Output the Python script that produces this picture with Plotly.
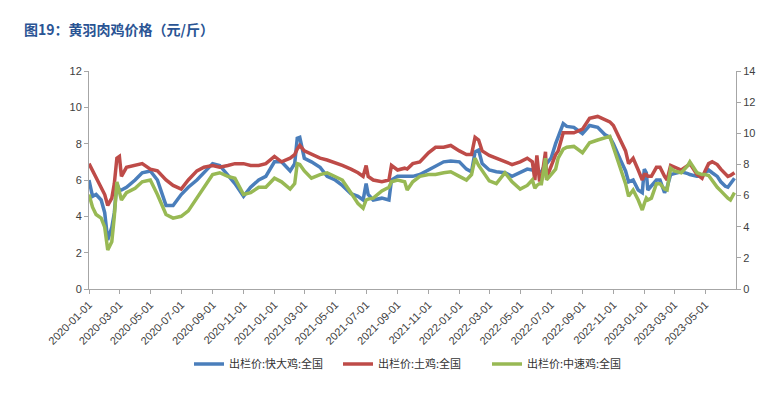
import plotly.graph_objects as go

dates = [
    "2020-01-01", "2020-01-08", "2020-01-15", "2020-01-25", "2020-02-01", "2020-02-07", "2020-02-15",
    "2020-02-20", "2020-02-25", "2020-03-01", "2020-03-05", "2020-03-15", "2020-04-01", "2020-04-15",
    "2020-05-01", "2020-05-15", "2020-06-01", "2020-06-15", "2020-07-01", "2020-07-15", "2020-08-01",
    "2020-08-15", "2020-09-01", "2020-09-15", "2020-10-01", "2020-10-15", "2020-11-01", "2020-11-15",
    "2020-12-01", "2020-12-15", "2021-01-01", "2021-01-15", "2021-02-01", "2021-02-10", "2021-02-15",
    "2021-02-20", "2021-03-01", "2021-03-15", "2021-04-01", "2021-04-15", "2021-05-01", "2021-05-15",
    "2021-06-01", "2021-06-15", "2021-06-25", "2021-07-01", "2021-07-05", "2021-07-15", "2021-08-01",
    "2021-08-15", "2021-08-20", "2021-09-01", "2021-09-15", "2021-09-20", "2021-10-01", "2021-10-15",
    "2021-11-01", "2021-11-15", "2021-12-01", "2021-12-15", "2022-01-01", "2022-01-15", "2022-01-25",
    "2022-02-01", "2022-02-08", "2022-02-15", "2022-03-01", "2022-03-15", "2022-04-01", "2022-04-15",
    "2022-05-01", "2022-05-15", "2022-05-25", "2022-05-30", "2022-06-03", "2022-06-08", "2022-06-12",
    "2022-06-20", "2022-06-22", "2022-07-01", "2022-07-10", "2022-07-15", "2022-07-25", "2022-08-01",
    "2022-08-15", "2022-09-01", "2022-09-15", "2022-10-01", "2022-10-15", "2022-10-25", "2022-11-01",
    "2022-11-15", "2022-11-25", "2022-12-01", "2022-12-10", "2022-12-20", "2022-12-28", "2023-01-01",
    "2023-01-05", "2023-01-08", "2023-01-15", "2023-01-25", "2023-02-01", "2023-02-10", "2023-02-15",
    "2023-02-22", "2023-03-01", "2023-03-15", "2023-03-28", "2023-04-01", "2023-04-15", "2023-04-25",
    "2023-05-01", "2023-05-08", "2023-05-15", "2023-05-25", "2023-06-01", "2023-06-10", "2023-06-15",
    "2023-06-20", "2023-06-28",
]

kuaida = [  # 出栏价:快大鸡:全国
    6.0, 5.1, 5.2, 4.9, 4.2, 2.7, 3.4, 4.2, 5.8, 5.45, 5.45, 5.6, 6.0, 6.4,
    6.5, 6.0, 4.6, 4.6, 5.2, 5.6, 6.0, 6.4, 6.9, 6.8, 6.3, 5.8, 5.1, 5.6,
    6.0, 6.2, 7.0, 7.0, 6.5, 6.9, 8.3, 8.35, 7.2, 7.0, 6.7, 6.2, 6.0, 5.7,
    5.25, 5.1, 4.9, 5.8, 5.2, 4.9, 5.0, 4.9, 6.0, 6.2, 6.2, 6.2, 6.2, 6.3,
    6.55, 6.75, 7.0, 7.05, 7.0, 6.6, 6.45, 7.55, 7.65, 6.9, 6.55, 6.45, 6.4, 6.2,
    6.4, 6.6, 6.55, 6.5, 6.5, 6.45, 6.45, 6.9, 6.9, 7.2, 8.0, 8.4, 9.1, 8.95,
    8.9, 8.55, 9.0, 8.9, 8.5, 8.35, 8.0, 7.1, 6.5, 5.9, 6.0, 5.45, 5.3, 6.6,
    6.4, 5.45, 5.7, 6.0, 6.0, 5.3, 5.6, 6.3, 6.35, 6.45, 6.35, 6.3, 6.2, 6.2,
    6.4, 6.55, 6.4, 6.2, 5.9, 5.65, 5.6, 5.8, 6.1,
]

tuji = [  # 出栏价:土鸡:全国
    6.9, 6.5, 6.2, 5.6, 5.2, 4.6, 5.0, 5.8, 7.2, 7.3, 6.2, 6.7, 6.8, 6.9,
    6.6, 6.5, 6.0, 5.7, 5.5, 6.0, 6.5, 6.7, 6.8, 6.7, 6.8, 6.9, 6.9, 6.8,
    6.8, 6.9, 7.3, 7.0, 7.2, 7.4, 7.7, 7.9, 7.6, 7.4, 7.2, 7.1, 6.95, 6.8,
    6.6, 6.4, 6.2, 6.8, 6.2, 6.0, 5.9, 6.0, 6.8, 6.55, 6.65, 6.6, 6.9, 7.0,
    7.5, 7.8, 7.8, 7.9, 7.6, 7.4, 7.4, 8.35, 8.2, 7.6, 7.35, 7.2, 7.0, 6.85,
    7.0, 7.2, 7.0, 6.0, 7.35, 6.0, 6.0, 7.55, 6.1, 6.8, 7.4, 7.6, 8.6, 8.6,
    8.6, 8.8, 9.4, 9.5, 9.35, 9.2, 9.0, 8.2, 7.6, 6.9, 7.2, 6.55, 6.0, 6.3,
    6.3, 6.2, 6.2, 6.7, 6.7, 6.2, 6.0, 6.8, 6.7, 6.55, 6.8, 6.9, 6.3, 6.1,
    6.5, 6.9, 7.0, 6.85, 6.6, 6.3, 6.2, 6.25, 6.4,
]

zhongsu = [  # 出栏价:中速鸡:全国
    5.2, 4.5, 4.1, 3.9, 3.4, 2.15, 2.6, 4.0, 5.9, 5.3, 4.9, 5.3, 5.55, 5.9,
    6.0, 5.2, 4.1, 3.9, 4.0, 4.3, 5.0, 5.6, 6.3, 6.4, 6.2, 6.1, 5.2, 5.3,
    5.6, 5.6, 6.1, 5.9, 5.5, 5.8, 6.9, 6.85, 6.5, 6.1, 6.3, 6.4, 6.2, 6.0,
    5.3, 4.7, 4.45, 4.9, 4.95, 5.0, 5.4, 5.6, 5.9, 6.0, 5.9, 5.45, 5.9, 6.2,
    6.3, 6.3, 6.4, 6.45, 6.2, 6.0, 6.3, 7.2, 6.8, 6.5, 5.95, 5.8, 6.4, 5.9,
    5.5, 5.7, 6.0, 5.55, 5.7, 5.8, 5.8, 7.2, 6.0, 6.3, 6.6, 7.2, 7.7, 7.8,
    7.85, 7.5, 8.05, 8.2, 8.3, 8.4, 7.8, 6.65, 5.8, 5.1, 5.45, 4.9, 4.35, 4.7,
    5.0, 4.9, 5.0, 5.8, 5.8, 5.5, 5.45, 6.65, 6.5, 6.4, 6.8, 7.0, 6.4, 6.3,
    6.3, 6.25, 5.95, 5.6, 5.4, 5.1, 5.0, 4.9, 5.3,
]

series_names = ["出栏价:快大鸡:全国", "出栏价:土鸡:全国", "出栏价:中速鸡:全国"]
series_colors = ["#4A7EBB", "#BE4B48", "#98B954"]

tick_dates = [
    "2020-01-01", "2020-03-01", "2020-05-01", "2020-07-01", "2020-09-01", "2020-11-01",
    "2021-01-01", "2021-03-01", "2021-05-01", "2021-07-01", "2021-09-01", "2021-11-01",
    "2022-01-01", "2022-03-01", "2022-05-01", "2022-07-01", "2022-09-01", "2022-11-01",
    "2023-01-01", "2023-03-01", "2023-05-01",
]
left_ticks = [0, 2, 4, 6, 8, 10, 12]
right_ticks = [0, 2, 4, 6, 8, 10, 12, 14]

fig = go.Figure()
for name, vals, col in zip(series_names, [kuaida, tuji, zhongsu], series_colors):
    fig.add_trace(go.Scatter(x=dates, y=vals, name=name, mode="lines",
                             line=dict(color=col, width=3.5)))

# anchor for the secondary axis
fig.add_trace(go.Scatter(x=[dates[0]], y=[0], yaxis="y2", mode="markers",
                         marker=dict(opacity=0), showlegend=False, hoverinfo="skip"))

axis_col = "#A6A6A6"
tick_font = dict(family="Liberation Sans, Arial, sans-serif", size=11, color="#404040")

W, H = 761, 388  # page body has an 8px margin
fig.update_layout(
    width=W, height=H,
    margin=dict(l=81, r=33, t=63, b=107),
    paper_bgcolor="white", plot_bgcolor="white",
    title=dict(text="<b>图19：黄羽肉鸡价格（元/斤）</b>", x=16 / W, xref="container", xanchor="left",
               y=1 - 22 / H, yref="container", yanchor="middle",
               font=dict(family="Noto Sans CJK SC", size=14, color="#2A5494")),
    xaxis=dict(type="date", range=["2020-01-01", "2023-07-01"], tickvals=tick_dates, ticktext=tick_dates,
               tickangle=-45, showgrid=False, zeroline=False, showline=True, linecolor=axis_col,
               ticks="outside", ticklen=4, tickcolor=axis_col, tickfont=tick_font),
    yaxis=dict(range=[0, 12], tickvals=left_ticks, showgrid=False, zeroline=False, showline=True,
               linecolor=axis_col, ticks="outside", ticklen=4, tickcolor=axis_col, tickfont=tick_font),
    yaxis2=dict(range=[0, 14], tickvals=right_ticks, overlaying="y", side="right", showgrid=False,
                zeroline=False, showline=True, linecolor=axis_col, ticks="outside", ticklen=4,
                tickcolor=axis_col, tickfont=tick_font),
    legend=dict(orientation="h", x=0.5, xanchor="center", y=-0.344, yanchor="middle",
                font=dict(family="Noto Sans CJK SC", size=11, color="#333333"),
                itemwidth=30, entrywidth=104, entrywidthmode="pixels", tracegroupgap=0),
    showlegend=True,
)

fig.write_html("out.html")
